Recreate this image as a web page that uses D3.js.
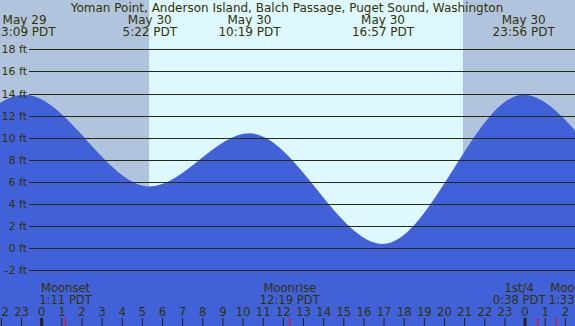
<!DOCTYPE html>
<html>
<head>
<meta charset="utf-8">
<script src="https://cdn.jsdelivr.net/npm/d3@7"></script>
<style>
  html, body { margin: 0; padding: 0; background: #fff; }
  svg { display: block; }
  text { font-family: "DejaVu Sans", Verdana, sans-serif; font-size: 11.6px; fill: #333300; }
</style>
</head>
<body>
<div class="chart"></div>
<script>
// Tide extremes (the outer two on each side fall off the visible window)
const tideDays = ["May 29", "May 29", "May 29", "May 30", "May 30", "May 30", "May 30", "May 31", "May 31"];
const tideClock = ["9:50", "15:20", "23:09", "5:22", "10:19", "16:57", "23:56", "5:45", "11:10"];
const tideFeet = [9.8, 2.5, 13.9, 5.6, 10.4, 0.4, 13.9, 6.0, 9.6];

// Moon events
const moonNames = ["Moonset", "Moonrise", "1st/4", "Moonset"];
const moonDays = ["May 30", "May 30", "May 31", "May 31"];
const moonClock = ["1:11", "12:19", "0:38", "1:33"];

// Sun
const sunrise = "5:20";
const sunset = "20:55";

const feetTicks = [-2, 0, 2, 4, 6, 8, 10, 12, 14, 16, 18];
const title = "Yoman Point, Anderson Island, Balch Passage, Puget Sound, Washington";

const width = 575, height = 326;
const dayOffset = { "May 29": -24, "May 30": 0, "May 31": 24 };

// hours relative to May 30 00:00
function toHours(day, clock) {
  const [h, m] = clock.split(":").map(Number);
  return dayOffset[day] + h + m / 60;
}

const x = d3.scaleLinear().domain([-2.07, 26.48]).range([0, width]);
const y = d3.scaleLinear().domain([0, 18]).range([248.3, 49.3]);

const svg = d3.select(".chart").append("svg")
  .attr("width", width)
  .attr("height", height);

// night / day background
svg.append("rect").attr("width", width).attr("height", height).attr("fill", "#b0c4de");
const sr = x(toHours("May 30", sunrise)), ss = x(toHours("May 30", sunset));
svg.append("rect")
  .attr("x", sr).attr("y", 0)
  .attr("width", ss - sr).attr("height", height)
  .attr("fill", "#ddf8ff");

// tide curve
const tides = tideFeet.map((v, i) => ({ t: toHours(tideDays[i], tideClock[i]), v: v, i: i }));

const area = d3.area()
  .x(d => x(d.t))
  .y0(height)
  .y1(d => y(d.v))
  .curve(d3.curveMonotoneX);

svg.append("path")
  .datum(tides)
  .attr("d", area)
  .attr("fill", "#4161d8");

// grid lines + feet labels
svg.selectAll(".grid")
  .data(feetTicks)
  .enter()
  .append("line")
    .attr("x1", 29).attr("x2", width)
    .attr("y1", d => Math.round(y(d)) + 0.5)
    .attr("y2", d => Math.round(y(d)) + 0.5)
    .attr("stroke", "#2a2a10")
    .attr("stroke-width", 1);

svg.selectAll(".ftlabel")
  .data(feetTicks)
  .enter()
  .append("text")
    .attr("x", 27)
    .attr("y", d => Math.round(y(d)) + 4)
    .attr("text-anchor", "end")
    .style("font-size", "11px")
    .text(d => d + " ft");

// title
svg.append("text")
  .attr("x", 287).attr("y", 12)
  .attr("text-anchor", "middle")
  .style("font-size", "12px")
  .text(title);

// high / low labels along the top
const shown = tides.filter(d => x(d.t) > -30 && x(d.t) < width + 30);
const topLabels = svg.selectAll(".tidelabel")
  .data(shown)
  .enter()
  .append("text")
    .attr("text-anchor", "middle")
    .style("font-size", "12px")
    .attr("transform", d => "translate(" + x(d.t) + ",0)");
topLabels.append("tspan").attr("x", 0).attr("y", 23.5).text(d => tideDays[d.i]);
topLabels.append("tspan").attr("x", 0).attr("y", 36).text(d => tideClock[d.i] + " PDT");

// hour ticks
const hours = d3.range(-2, 27);
svg.selectAll(".hourtick")
  .data(hours)
  .enter()
  .append("line")
    .attr("x1", d => x(d)).attr("x2", d => x(d))
    .attr("y1", 318).attr("y2", height)
    .attr("stroke", "#222")
    .attr("stroke-width", d => (d % 24 === 0 ? 3 : 1));

svg.selectAll(".hourlabel")
  .data(hours)
  .enter()
  .append("text")
    .attr("x", d => x(d))
    .attr("y", 316)
    .attr("text-anchor", "middle")
    .text(d => ((d % 24) + 24) % 24);

// moon events
const moon = moonNames.map((n, i) => ({ name: n, clock: moonClock[i], t: toHours(moonDays[i], moonClock[i]) }));

svg.selectAll(".moontick")
  .data(moon)
  .enter()
  .append("line")
    .attr("x1", d => x(d.t)).attr("x2", d => x(d.t))
    .attr("y1", 318).attr("y2", height)
    .attr("stroke", "#ff0000")
    .attr("stroke-width", 1);

const moonLabels = svg.selectAll(".moonlabel")
  .data(moon)
  .enter()
  .append("text")
    .attr("text-anchor", "middle")
    .attr("transform", d => "translate(" + x(d.t) + ",0)");
moonLabels.append("tspan").attr("x", 0).attr("y", 291.5).text(d => d.name);
moonLabels.append("tspan").attr("x", 0).attr("y", 304).text(d => d.clock + " PDT");

// labels that sit too close together get pushed apart evenly
moonLabels.each(function(d) { d.w = this.getBBox().width; d.lx = x(d.t); });
for (let i = 1; i < moon.length; i++) {
  const a = moon[i - 1], b = moon[i];
  const need = (a.w + b.w) / 2 + 2;
  const gap = b.lx - a.lx;
  if (gap < need) {
    a.lx -= (need - gap) / 2;
    b.lx += (need - gap) / 2;
  }
}
moonLabels.attr("transform", d => "translate(" + d.lx + ",0)");
</script>
</body>
</html>
